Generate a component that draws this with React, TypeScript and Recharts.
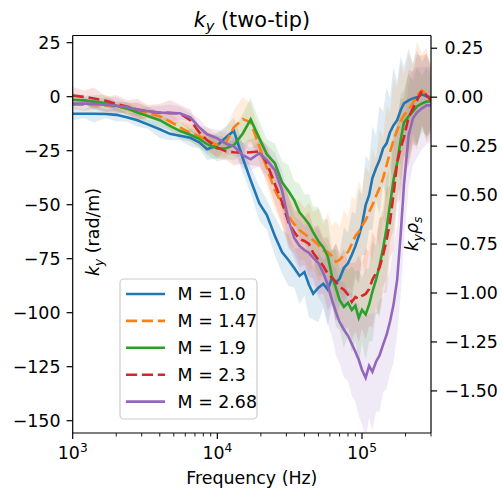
import React from 'react';
import { ComposedChart, Line, Area, XAxis, YAxis } from 'recharts';

// ---------- data ----------
const frequencies = [
  1000, 1200, 1400, 1700, 2000, 2400, 2800, 3300, 4000, 4700,
  5500, 6500, 7500, 8500, 10000, 11500, 13000, 15000, 17000, 19500,
  22000, 25000, 28000, 31000, 34000, 37000, 40000, 43000, 46000, 50000,
  54000, 58000, 62000, 66000, 70000, 75000, 80000, 85000, 90000, 95000,
  100000, 106000, 112000, 118000, 125000, 132000, 140000, 148000, 156000, 165000,
  175000, 185000, 195000, 210000, 225000, 240000, 260000, 280000, 300000,
];

const seriesNames = ['M = 1.0', 'M = 1.47', 'M = 1.9', 'M = 2.3', 'M = 2.68'];

const kyM100 = [-7.9, -7.9, -7.9, -8.0, -8.4, -9.6, -10.9, -12.8, -15.1, -17.2, -18.1, -19.0, -21.1, -24.3, -22.5, -18.8, -15.8, -28.5, -38.7, -49.3, -54.8, -64.5, -71.9, -75.6, -79.3, -83.0, -81.2, -87.1, -91.2, -88.4, -86.6, -89.3, -83.8, -86.1, -84.3, -79.3, -77.1, -73.3, -69.2, -64.5, -59.4, -50.2, -45.6, -37.7, -33.1, -29.4, -23.9, -21.6, -16.6, -13.3, -10.9, -6.3, -3.1, -1.7, -0.8, -0.3, 1.1, 0.1, -0.3];
const kyM147 = [-3.7, -3.7, -3.8, -4.2, -4.7, -5.6, -6.6, -7.5, -9.1, -11.4, -14.2, -16.7, -18.3, -20.0, -22.5, -21.1, -14.2, -10.3, -11.9, -23.0, -33.1, -43.3, -49.8, -55.3, -59.0, -61.8, -63.6, -65.0, -66.4, -68.7, -71.0, -71.9, -73.8, -76.5, -75.6, -73.3, -71.9, -68.2, -64.5, -62.6, -59.9, -57.2, -53.5, -50.2, -46.1, -42.4, -37.7, -31.7, -25.7, -20.2, -15.6, -11.4, -8.6, -5.9, -3.1, 0.6, 2.9, 0.6, -1.7];
const kyM190 = [-1.4, -1.7, -2.3, -3.1, -4.2, -5.6, -7.3, -8.9, -10.9, -13.5, -15.8, -17.6, -19.5, -22.0, -24.0, -23.9, -22.5, -17.0, -10.5, -19.3, -26.7, -30.8, -39.6, -43.7, -47.9, -53.5, -56.3, -59.0, -62.8, -66.9, -69.8, -73.9, -83.1, -88.5, -94.1, -97.3, -95.4, -98.7, -96.8, -102.4, -98.7, -100.9, -96.3, -90.3, -84.8, -78.4, -70.0, -60.8, -50.2, -38.7, -30.8, -20.2, -11.9, -9.1, -6.8, -4.5, -3.1, -2.2, -2.2];
const kyM230 = [0.5, -0.1, -0.8, -1.9, -3.3, -4.7, -5.9, -6.8, -7.4, -7.5, -7.7, -10.9, -16.5, -20.2, -23.6, -25.3, -25.7, -26.0, -25.7, -25.3, -30.8, -40.5, -48.8, -58.1, -62.7, -66.0, -66.8, -68.2, -72.3, -75.6, -78.4, -82.0, -83.9, -85.7, -88.0, -89.4, -91.7, -95.0, -92.7, -93.6, -92.2, -91.3, -89.0, -84.8, -81.6, -79.3, -73.3, -66.4, -58.1, -45.6, -30.4, -23.9, -18.8, -9.6, -5.4, -1.7, 2.9, 0.6, -1.7];
const kyM268 = [-3.2, -3.2, -3.3, -3.8, -4.2, -4.9, -5.9, -6.7, -7.3, -7.6, -7.7, -9.6, -14.2, -17.4, -19.3, -21.8, -23.0, -27.1, -29.0, -26.2, -29.4, -34.0, -43.3, -57.1, -65.4, -69.1, -71.0, -72.3, -74.6, -77.0, -81.6, -87.1, -94.1, -99.6, -104.3, -107.9, -110.7, -114.4, -118.1, -121.8, -126.4, -130.1, -124.6, -127.4, -122.7, -119.9, -114.8, -110.2, -104.3, -96.5, -84.8, -64.1, -41.0, -17.9, -10.0, -7.3, -5.4, -4.0, -4.0];

// spread (half-width) of the faint uncertainty bands
const spreadM100 = [3, 2, 4, 2, 3, 2, 3, 2, 4, 3, 2, 4, 3, 5, 6, 5, 6, 7, 6, 8, 7, 9, 10, 12, 9, 13, 11, 15, 12, 16, 11, 17, 13, 18, 12, 19, 14, 20, 15, 22, 14, 23, 16, 24, 15, 25, 17, 26, 16, 27, 18, 25, 17, 24, 16, 22, 15, 20, 14];
const spreadM147 = [2, 3, 2, 4, 2, 3, 4, 3, 2, 4, 3, 4, 5, 6, 5, 7, 8, 10, 9, 7, 8, 9, 10, 13, 11, 14, 12, 16, 13, 17, 12, 18, 14, 19, 15, 21, 16, 22, 17, 24, 16, 25, 18, 26, 17, 27, 19, 28, 18, 29, 20, 27, 19, 26, 18, 25, 17, 22, 16];
const spreadM190 = [3, 2, 3, 4, 2, 3, 2, 4, 3, 2, 4, 3, 4, 5, 6, 5, 7, 9, 10, 8, 7, 9, 10, 12, 9, 13, 11, 14, 12, 16, 13, 17, 12, 18, 14, 19, 15, 20, 16, 22, 15, 21, 17, 23, 16, 22, 18, 24, 17, 23, 16, 21, 15, 20, 14, 18, 13, 16, 12];
const spreadM230 = [4, 3, 5, 2, 4, 3, 5, 3, 4, 6, 4, 5, 3, 4, 5, 4, 6, 5, 6, 7, 8, 9, 10, 12, 10, 13, 11, 15, 12, 16, 13, 17, 12, 18, 14, 19, 15, 18, 16, 20, 15, 21, 17, 22, 16, 23, 18, 24, 17, 25, 19, 23, 18, 22, 17, 21, 16, 19, 15];
const spreadM268 = [2, 3, 2, 3, 4, 2, 3, 2, 3, 4, 3, 2, 4, 3, 4, 5, 4, 6, 5, 6, 7, 8, 9, 11, 10, 12, 11, 14, 13, 16, 15, 18, 17, 20, 19, 22, 21, 24, 23, 26, 25, 28, 24, 27, 23, 26, 22, 25, 24, 27, 25, 28, 26, 24, 22, 21, 19, 18, 17];

const xTicks = [1000, 2000, 3000, 4000, 5000, 6000, 7000, 8000, 9000, 10000, 20000, 30000, 40000, 50000, 60000, 70000, 80000, 90000, 100000, 200000, 300000];
const xMajor = [1000, 10000, 100000];
const yLeftTicks = [25, 0, -25, -50, -75, -100, -125, -150];
const yRightTicks = [0.25, 0, -0.25, -0.5, -0.75, -1, -1.25, -1.5];

// ---------- style / layout ----------
const COLORS = ['#1f77b4', '#ff7f0e', '#2ca02c', '#d62728', '#9467bd'];
const DASHED = [false, true, false, true, false];
const FONT = "'DejaVu Sans', sans-serif";
const FS = 17.4;
const W = 502;
const H = 491;
const PL = 72.7;
const PR = 431;
const PT = 35.5;
const PB = 433;
const X_DOMAIN: [number, number] = [1000, 300000];
const YL_DOMAIN: [number, number] = [-155.7, 28.33];
const YR_DOMAIN: [number, number] = [-1.715, 0.315];

const allValues = [kyM100, kyM147, kyM190, kyM230, kyM268];
const allSpreads = [spreadM100, spreadM147, spreadM190, spreadM230, spreadM268];

const data = frequencies.map((f, i) => {
  const row: any = { f };
  allValues.forEach((vals, k) => {
    row['s' + k] = vals[i];
    row['b' + k] = [vals[i] - allSpreads[k][i], vals[i] + allSpreads[k][i]];
  });
  return row;
});

const fmtMinus = (s: string) => s.replace('-', '\u2212');

const XTick = (props: any) => {
  const { x, y, payload } = props;
  const v = payload.value;
  const isMajor = xMajor.includes(v);
  const exp = Math.round(Math.log10(v));
  return (
    <g>
      <line x1={x} x2={x} y1={y} y2={y + (isMajor ? 6.1 : 3.5)} stroke="#000" strokeWidth={isMajor ? 1.2 : 0.9} />
      {isMajor && (
        <text x={x} y={y + 26} textAnchor="middle" fontSize={FS} fontFamily={FONT} fill="#000">
          10<tspan dy={-7.5} fontSize={12.2}>{exp}</tspan>
        </text>
      )}
    </g>
  );
};

export default function App() {
  return (
    <div style={{ position: 'absolute', left: 0, top: 0, width: W, height: H, background: '#fff' }}>
      <ComposedChart
        width={W}
        height={H}
        data={data}
        margin={{ top: PT, right: 0, bottom: 0, left: 0 }}
        style={{ fontFamily: FONT }}
      >
        <XAxis
          xAxisId="main"
          dataKey="f"
          type="number"
          scale="log"
          domain={X_DOMAIN}
          allowDataOverflow
          ticks={xTicks}
          interval={0}
          tick={<XTick />}
          tickLine={false}
          tickSize={0}
          tickMargin={0}
          height={H - PB}
          axisLine={{ stroke: '#000', strokeWidth: 1.2 }}
        />
        <YAxis
          yAxisId="left"
          type="number"
          domain={YL_DOMAIN}
          allowDataOverflow
          ticks={yLeftTicks}
          interval={0}
          width={PL}
          tickSize={6.1}
          tickMargin={6.1}
          tickFormatter={(v: number) => fmtMinus(String(v))}
          tick={{ fill: '#000', fontSize: FS, fontFamily: FONT }}
          tickLine={{ stroke: '#000', strokeWidth: 1.2 }}
          axisLine={{ stroke: '#000', strokeWidth: 1.2 }}
        />
        <YAxis
          yAxisId="right"
          orientation="right"
          type="number"
          domain={YR_DOMAIN}
          allowDataOverflow
          ticks={yRightTicks}
          interval={0}
          width={W - PR}
          tickSize={6.1}
          tickMargin={7.5}
          tickFormatter={(v: number) => fmtMinus(v.toFixed(2))}
          tick={{ fill: '#000', fontSize: FS, fontFamily: FONT, textAnchor: 'start' }}
          tickLine={{ stroke: '#000', strokeWidth: 1.2 }}
          axisLine={{ stroke: '#000', strokeWidth: 1.2 }}
        />
        {COLORS.map((c, k) => (
          <Area
            key={'band' + k}
            xAxisId="main"
            yAxisId="left"
            type="linear"
            dataKey={'b' + k}
            stroke="none"
            fill={c}
            fillOpacity={0.14}
            isAnimationActive={false}
            dot={false}
            activeDot={false}
          />
        ))}
        {COLORS.map((c, k) => (
          <Line
            key={'line' + k}
            xAxisId="main"
            yAxisId="left"
            type="linear"
            dataKey={'s' + k}
            name={seriesNames[k]}
            stroke={c}
            strokeWidth={2.6}
            strokeDasharray={DASHED[k] ? '11.1 4.8' : undefined}
            dot={false}
            activeDot={false}
            isAnimationActive={false}
          />
        ))}
        <Line
          xAxisId="main"
          yAxisId="right"
          dataKey="s0"
          stroke="none"
          dot={false}
          activeDot={false}
          isAnimationActive={false}
        />
      </ComposedChart>
      <svg
        width={W}
        height={H}
        style={{ position: 'absolute', left: 0, top: 0, pointerEvents: 'none', fontFamily: FONT }}
      >
        <line x1={PL} x2={PR} y1={PT} y2={PT} stroke="#000" strokeWidth={1.2} />
        <text x={(PL + PR) / 2} y={27} textAnchor="middle" fontSize={20.8} fill="#000">
          <tspan fontStyle="italic">k</tspan>
          <tspan fontStyle="italic" fontSize={14.6} dy={4}>y</tspan>
          <tspan dy={-4}> (two-tip)</tspan>
        </text>
        <text x={(PL + PR) / 2} y={484} textAnchor="middle" fontSize={FS} fill="#000">
          Frequency (Hz)
        </text>
        <text transform="translate(99.2, 232) rotate(-90)" textAnchor="middle" fontSize={FS} fill="#000">
          <tspan fontStyle="italic">k</tspan>
          <tspan fontStyle="italic" fontSize={12.2} dy={3.5}>y</tspan>
          <tspan dy={-3.5}> (rad/m)</tspan>
        </text>
        <text transform="translate(418, 234) rotate(-90)" textAnchor="middle" fontSize={FS} fill="#000">
          <tspan fontStyle="italic">k</tspan>
          <tspan fontStyle="italic" fontSize={12.2} dy={3.5}>y</tspan>
          <tspan fontStyle="italic" dy={-3.5}>ρ</tspan>
          <tspan fontStyle="italic" fontSize={12.2} dy={3.5}>s</tspan>
        </text>
        <rect x={120} y={279} width={137} height={140} rx={4} fill="#fff" fillOpacity={0.8} stroke="#cccccc" strokeWidth={1.2} />
        {seriesNames.map((name, k) => {
          const cy = 294 + k * 26.9;
          return (
            <g key={name}>
              <line
                x1={126}
                x2={165}
                y1={cy}
                y2={cy}
                stroke={COLORS[k]}
                strokeWidth={2.6}
                strokeDasharray={DASHED[k] ? '11.1 4.8' : undefined}
              />
              <text x={177.6} y={cy + 6.4} fontSize={FS} fill="#000">
                {name}
              </text>
            </g>
          );
        })}
      </svg>
    </div>
  );
}
